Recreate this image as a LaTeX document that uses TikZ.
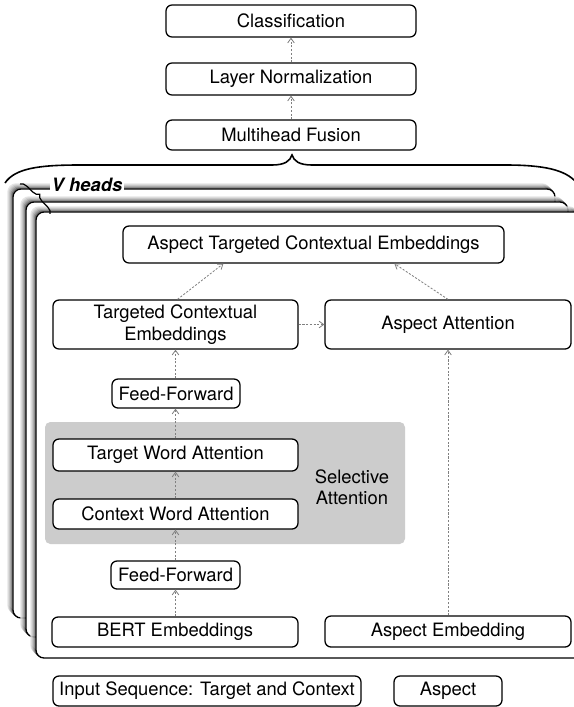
\documentclass[tikz,border=0pt]{standalone}
\usepackage{fontspec}
\setmainfont{TeX Gyre Heros}
\usetikzlibrary{arrows.meta,decorations.pathreplacing,calc}
\begin{document}
\begin{tikzpicture}[x=0.75pt,y=-0.75pt,
  box/.style={draw=black,line width=0.95pt,rounded corners=4.5pt,fill=white,inner sep=0pt,
    font=\fontsize{13.8pt}{16.5pt}\selectfont,align=center},
  arr/.style={draw=black!50,line width=0.6pt,dash pattern=on 1.6pt off 1.2pt,
    -{Straight Barb[length=3.5pt,width=5pt]}},
  frm/.style={draw=black,line width=1pt,rounded corners=6pt,fill=white},
  shd/.style={line width=1.1pt,rounded corners=6pt},
  ]
\useasboundingbox (0,0) rectangle (574,707);

% stacked frames with shadows
\foreach \d/\c in {5/10,4/18,3/28,2/40,1/55}{
  \draw[shd,black!\c] (13-\d,189-\d) rectangle (555-\d,618-\d);}
\draw[frm] (13,189) rectangle (555,618);
\foreach \d/\c in {5/10,4/18,3/28,2/40,1/55}{
  \draw[shd,black!\c] (26-\d,202-\d) rectangle (568-\d,637-\d);}
\draw[frm] (26,202) rectangle (568,637);
\foreach \d/\c in {5/10,4/18,3/28,2/40,1/55}{
  \draw[shd,black!\c] (36-\d,212-\d) rectangle (582-\d,658-\d);}
\draw[frm] (36,212) rectangle (582,658);

% V heads label and small brace
\node[fill=white,inner sep=1pt,font=\fontsize{13.8pt}{16pt}\selectfont\bfseries\itshape] (vh) at (87,185) {V heads};
\coordinate (vb1) at (20,184);
\coordinate (vb2) at (50,214);
\draw[line width=0.9pt,decorate,decoration={brace,amplitude=5pt}] (vb1) -- (vb2);

% big brace
\draw[line width=1.2pt] (5,183) .. controls (15,168) and (40,165) .. (80,165) -- (272,165)
  .. controls (285,165) and (290,161) .. (292,155)
  .. controls (294,161) and (299,165) .. (312,165) -- (505,165)
  .. controls (545,165) and (565,170) .. (576,182);

% top boxes
\node[box,minimum width=250*0.75pt,minimum height=32*0.75pt] (cls) at (291,21) {Classification};
\node[box,minimum width=250*0.75pt,minimum height=32*0.75pt] (ln) at (291,79) {Layer Normalization};
\node[box,minimum width=250*0.75pt,minimum height=30*0.75pt] (mf) at (291,135) {Multihead Fusion};

% inner content
\node[box,minimum width=381*0.75pt,minimum height=37*0.75pt] (atce) at (313.5,244.5) {Aspect Targeted Contextual Embeddings};
\node[box,minimum width=245*0.75pt,minimum height=49*0.75pt] (tce) at (175.5,324.5) {Targeted Contextual\\Embeddings};
\node[box,minimum width=246*0.75pt,minimum height=49*0.75pt] (aa) at (448,324.5) {Aspect Attention};
\node[box,minimum width=128*0.75pt,minimum height=29*0.75pt] (ff1) at (176,393.5) {Feed-Forward};

\node[fill=black!20,rounded corners=4pt,inner sep=0pt,minimum width=360*0.75pt,minimum height=122*0.75pt] (selbg) at (225,483) {};
\node[align=center,inner sep=0pt,font=\fontsize{13.8pt}{16pt}\selectfont] (seltxt) at (352,487) {Selective\\Attention};

\node[box,minimum width=245*0.75pt,minimum height=32*0.75pt] (twa) at (175.5,455) {Target Word Attention};
\node[box,minimum width=245*0.75pt,minimum height=30*0.75pt] (cwa) at (175.5,514) {Context Word Attention};
\node[box,minimum width=129*0.75pt,minimum height=28*0.75pt] (ff2) at (175.5,575) {Feed-Forward};
\node[box,minimum width=246*0.75pt,minimum height=30*0.75pt] (bert) at (175,632) {BERT Embeddings};
\node[box,minimum width=246*0.75pt,minimum height=31*0.75pt] (ae) at (448,631.5) {Aspect Embedding};

% inputs
\node[box,minimum width=308*0.75pt,minimum height=30*0.75pt] (inp) at (207,691) {Input Sequence: Target and Context};
\node[box,minimum width=108*0.75pt,minimum height=30*0.75pt] (asp) at (448,691) {Aspect};

% arrows
\draw[arr] (ln.north) -- (cls.south);
\draw[arr] (mf.north) -- (ln.south);
\draw[arr] ([xshift=1.5pt]tce.north) -- ($(atce.south west)+(101,0)$);
\draw[arr] (aa.north) -- ($(atce.south west)+(272,0)$);
\draw[arr] (tce.east) -- (aa.west);
\draw[arr] (tce.south |- ff1.north) -- (tce.south);
\draw[arr] (twa.north) -- (twa.north |- ff1.south);
\draw[arr] (cwa.north) -- (twa.south);
\draw[arr] (cwa.south |- ff2.north) -- (cwa.south);
\draw[arr] (bert.north -| ff2.south) -- (ff2.south);
\draw[arr] (ae.north) -- (aa.south);
\end{tikzpicture}
\end{document}
